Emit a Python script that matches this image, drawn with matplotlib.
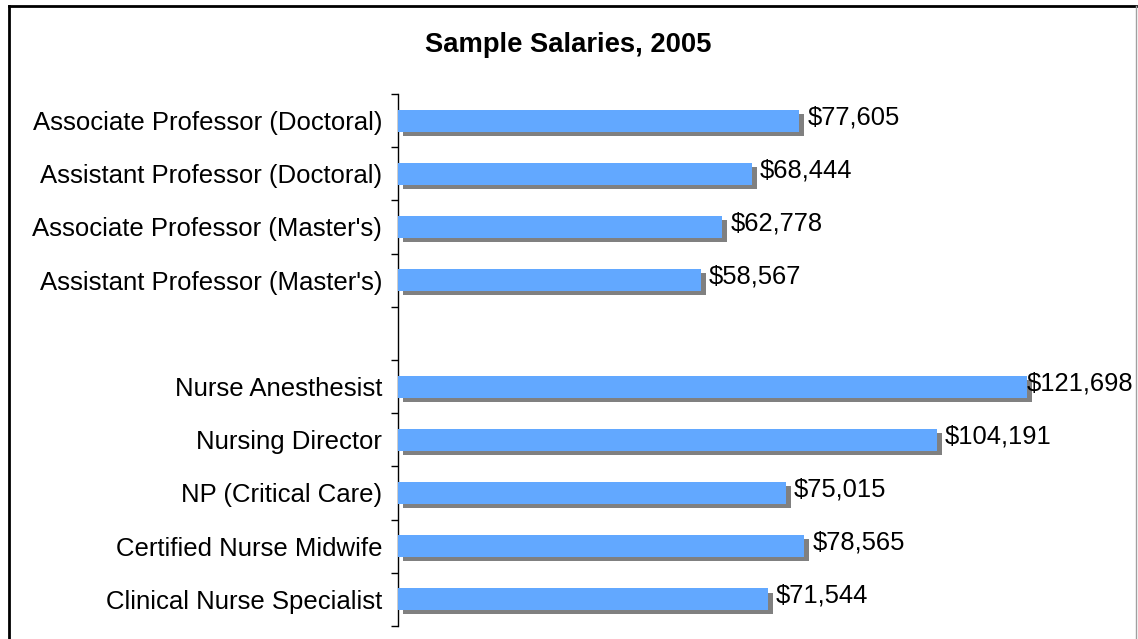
import matplotlib
matplotlib.use("Agg")
import matplotlib.pyplot as plt
import matplotlib.patheffects as pe
from matplotlib.lines import Line2D

# data (top to bottom, blank row separates the two groups)
categories = ["Associate Professor (Doctoral)", "Assistant Professor (Doctoral)",
              "Associate Professor (Master's)", "Assistant Professor (Master's)",
              "",
              "Nurse Anesthesist", "Nursing Director", "NP (Critical Care)",
              "Certified Nurse Midwife", "Clinical Nurse Specialist"]
salaries = [77605, 68444, 62778, 58567, None,
            121698, 104191, 75015, 78565, 71544]

plt.rcParams["font.family"] = ["Liberation Sans", "DejaVu Sans"]

W, H = 1138, 639
fig = plt.figure(figsize=(W / 100, H / 100), dpi=100)

# plot area in pixel terms
left_px, top_px, bot_px = 398, 94, 626
xmax = 140000
px_per_unit = 629 / 121698
width_px = xmax * px_per_unit
ax = fig.add_axes([left_px / W, (H - bot_px) / H, width_px / W, (bot_px - top_px) / H])

pos = list(range(len(categories)))
vals = [v if v is not None else 0 for v in salaries]
bars = ax.barh(pos, vals, height=0.41, color="#62A8FF", edgecolor="none", zorder=3)
labels = []
for b, v in zip(bars, salaries):
    if v is None:
        b.set_visible(False)
        continue
    b.set_path_effects([pe.SimplePatchShadow(offset=(3.6, -2.9), shadow_rgbFace="#808080", alpha=1.0),
                        pe.Normal()])
    t = ax.annotate(f"${v:,.0f}", xy=(v, b.get_y() + b.get_height() / 2),
                    xytext=(6, 2.5), textcoords="offset points",
                    ha="left", va="center", fontsize=18.4, color="black", zorder=5)
    labels.append(t)

ax.set_xlim(0, xmax)
ax.set_ylim(len(categories) - 0.5, -0.5)
ax.set_yticks(pos)
ax.set_yticklabels(categories, fontsize=18.5)
ax.set_yticks([p - 0.5 for p in pos] + [len(pos) - 0.5], minor=True)
ax.tick_params(axis="y", which="major", length=0, pad=11.5)
ax.tick_params(axis="y", which="minor", length=5, width=1, color="black")
ax.set_xticks([])
for s in ["top", "right", "bottom"]:
    ax.spines[s].set_visible(False)
ax.spines["left"].set_linewidth(1)
ax.patch.set_alpha(0)

fig.text(568 / W, 1 - 45 / H, "Sample Salaries, 2005", ha="center", va="center",
         fontsize=19.7, fontweight="bold")

# chart frame
fig.add_artist(Line2D([9 / W, 9 / W], [0, 1 - 6 / H], color="black", lw=2))
fig.add_artist(Line2D([9 / W, 1136 / W], [1 - 6 / H, 1 - 6 / H], color="black", lw=2))
fig.add_artist(Line2D([1136 / W, 1136 / W], [0, 1 - 6 / H], color="#A0A0A0", lw=1))

# keep value labels inside the frame (shift left like the original)
fig.canvas.draw()
r = fig.canvas.get_renderer()
for t in labels:
    ext = t.get_window_extent(r)
    if ext.x1 > 1133:
        dx_pt = (ext.x1 - 1133) * 72 / 100
        x0, y0 = t.xyann
        t.xyann = (x0 - dx_pt, y0)

fig.savefig("out.png", dpi=100)
